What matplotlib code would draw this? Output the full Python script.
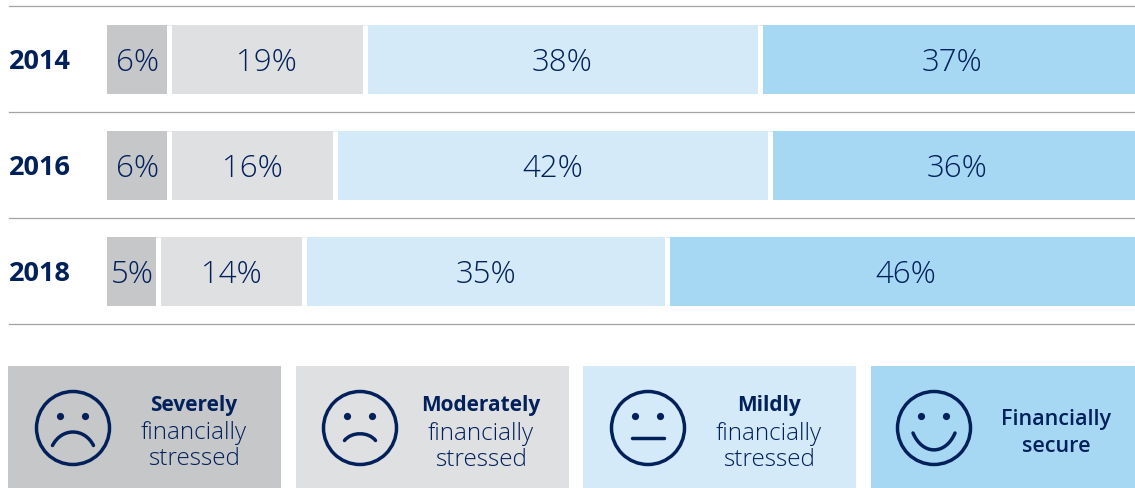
import matplotlib
matplotlib.use('Agg')
import matplotlib.pyplot as plt
from matplotlib.patches import Circle, PathPatch, Rectangle
from matplotlib.path import Path

years = ['2014', '2016', '2018']
severe = [6.0, 6.0, 5.0]
moderate = [19.1, 16.2, 14.2]
mild = [38.4, 42.3, 35.3]
secure = [36.5, 35.5, 45.5]
severe_labels = ['6%', '6%', '5%']
moderate_labels = ['19%', '16%', '14%']
mild_labels = ['38%', '42%', '35%']
secure_labels = ['37%', '36%', '46%']
legend_bold = ['Severely', 'Moderately', 'Mildly', 'Financially']
legend_light = ['financially\nstressed', 'financially\nstressed', 'financially\nstressed', 'secure']

colors = ['#c6c7c9', '#dfe0e2', '#d4eaf8', '#a6d8f3']
navy = '#02205a'
rule = '#a3a3a6'
W, H = 1135, 488

plt.rcParams['font.family'] = ['Open Sans', 'DejaVu Sans']

fig = plt.figure(figsize=(W / 100, H / 100), dpi=100)

# overlay in pixel coordinates for the rules and the legend panels
over = fig.add_axes([0, 0, 1, 1])
over.set_xlim(0, W)
over.set_ylim(H, 0)
over.axis('off')

# bars
ax = fig.add_axes([107 / W, 1 - 324.5 / H, (W - 107) / W, 318 / H])
ax.set_xlim(0, 100)
ax.set_ylim(3, 0)
ax.axis('off')
ax.patch.set_alpha(0)

rows = [i + 0.5 for i in range(len(years))]
left = [0, 0, 0]
series = [(severe, severe_labels), (moderate, moderate_labels),
          (mild, mild_labels), (secure, secure_labels)]
for n, (vals, labels) in enumerate(series):
    ax.barh(rows, vals, 69 / 106, left=left, color=colors[n], edgecolor='none')
    for y, v, l, lab in zip(rows, vals, left, labels):
        shift = 0.45 if n == 3 else 0
        ax.text(l + v / 2 + shift, y + 0.035, lab, ha='center', va='center',
                color=navy, fontsize=22.5, fontweight='light')
    left = [a + b for a, b in zip(left, vals)]
    # white gap between segments
    if n < 3:
        ax.vlines(left, [r - 0.33 for r in rows], [r + 0.33 for r in rows],
                  color='white', lw=3.6)

for y in (6, 112, 218, 324):
    over.plot([9, W], [y, y], color=rule, lw=0.9)
for y, yr in zip((62, 168, 274), years):
    over.text(9, y, yr, ha='left', va='center', color=navy, fontsize=19.5,
              fontweight='bold')


# legend panels
def face(cx, kind):
    over.add_patch(Circle((cx, 428), 36.5, fill=False, ec=navy, lw=2.5, zorder=3))
    for dx in (-12.5, 12.5):
        over.add_patch(Circle((cx + dx, 416.5), 3.6, fc=navy, ec='none', zorder=3))
    if kind == 2:
        over.plot([cx - 16, cx + 16], [438, 438], color=navy, lw=2.5,
                  solid_capstyle='round', zorder=3)
        return
    half, end, ctrl = {0: (20.5, 445.5, 427.5), 1: (15.5, 440.5, 431.5), 3: (21, 433, 455.5)}[kind]
    path = Path([(cx - half, end), (cx - 0.55 * half, ctrl), (cx + 0.55 * half, ctrl), (cx + half, end)],
                [Path.MOVETO, Path.CURVE4, Path.CURVE4, Path.CURVE4])
    over.add_patch(PathPatch(path, fill=False, ec=navy, lw=2.5, capstyle='round', zorder=3))


boxes = [(8, 281), (296, 569), (583, 856), (871, W)]
face_x = [73, 360, 648, 934]
text_x = [194, 481, 769, 1056]
text_dy = [0, 1, 1, 0]
for i, (x0, x1) in enumerate(boxes):
    over.add_patch(Rectangle((x0, 366), x1 - x0, H - 366, fc=colors[i], ec='none'))
    face(face_x[i], i)
    if i == 3:
        over.text(text_x[i], 420, legend_bold[i], ha='center', va='center',
                  color=navy, fontsize=15.5, fontweight='semibold')
        over.text(text_x[i], 446, legend_light[i], ha='center', va='center',
                  color=navy, fontsize=15.5, fontweight='semibold')
    else:
        over.text(text_x[i], 405 + text_dy[i], legend_bold[i], ha='center', va='center',
                  color=navy, fontsize=15, fontweight='bold')
        over.text(text_x[i], 446 + text_dy[i], legend_light[i], ha='center', va='center',
                  color=navy, fontsize=17.5, fontweight='light', linespacing=1.12)

fig.savefig('out.png', dpi=100)
